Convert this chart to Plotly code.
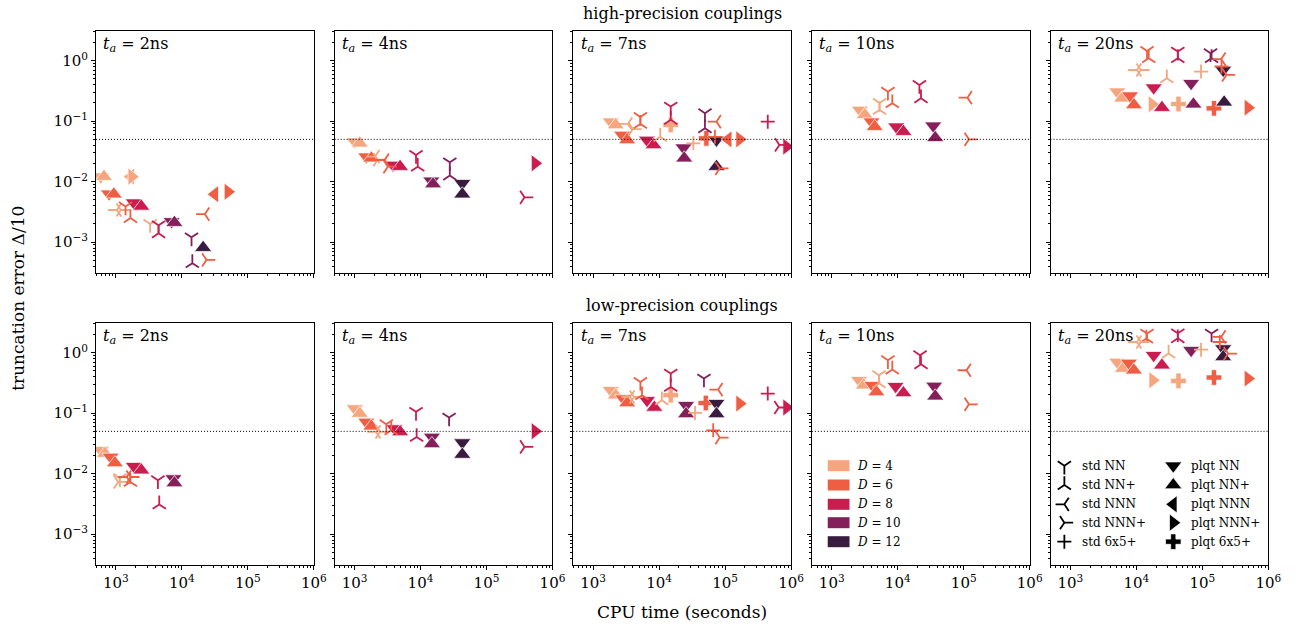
import math
import plotly.graph_objects as go

W, H = 1314, 629
SERIF = "DejaVu Serif"

# ---------------- data (CPU time in s, truncation error Δ/10) ----------------
t_labels = ["2ns", "4ns", "7ns", "10ns", "20ns"]
D_values = [4, 6, 8, 10, 12]
D_colors = ["#F5A67F", "#EF5E43", "#CB1C50", "#83205B", "#3A1B40"]
kinds = ["std NN", "std NN+", "std NNN", "std NNN+", "std 6x5+",
         "plqt NN", "plqt NN+", "plqt NNN", "plqt NNN+", "plqt 6x5+"]
kind_symbols = ["y-down", "y-up", "y-left", "y-right", "cross-thin",
                "triangle-down", "triangle-up", "triangle-left", "triangle-right", "cross"]
x_ticks = [1e3, 1e4, 1e5, 1e6]
x_ticktext = ["10<sup>3</sup>", "10<sup>4</sup>", "10<sup>5</sup>", "10<sup>6</sup>"]
y_ticks = [1e-3, 1e-2, 1e-1, 1e0]
y_ticktext = ["10<sup>−3</sup>", "10<sup>−2</sup>", "10<sup>−1</sup>", "10<sup>0</sup>"]
threshold = 0.05

hp_2ns = [
    ("plqt NN", 4, 590, 0.0121), ("plqt NN+", 4, 660, 0.0121),
    ("plqt NNN", 4, 1680, 0.0121), ("plqt NNN+", 4, 1740, 0.0121),
    ("plqt NN", 6, 785, 0.0063), ("plqt NN+", 6, 930, 0.0062),
    ("plqt NN", 8, 1870, 0.0045), ("plqt NN+", 8, 2430, 0.0039),
    ("plqt NN", 10, 7000, 0.0022), ("plqt NN+", 10, 7700, 0.0021),
    ("plqt NN+", 12, 21000, 0.00081),
    ("plqt NNN", 6, 31500, 0.0062), ("plqt NNN+", 6, 50000, 0.0068),
    ("std NNN", 4, 1035, 0.0034), ("std NNN+", 4, 1190, 0.0034),
    ("std NN", 6, 1400, 0.0039), ("std NN+", 6, 1660, 0.0025),
    ("std NN", 4, 3300, 0.0020),
    ("std NN", 8, 4430, 0.0019), ("std NN+", 8, 4430, 0.0014),
    ("std NN", 10, 14000, 0.0012), ("std NN+", 10, 14400, 0.00045),
    ("std NNN", 6, 22300, 0.0029), ("std NNN+", 6, 23600, 0.00051),
]
hp_4ns = [
    ("plqt NN", 4, 1010, 0.0458), ("plqt NN+", 4, 1200, 0.0431),
    ("plqt NN", 6, 1510, 0.0259), ("plqt NN+", 6, 1800, 0.0244),
    ("std NNN", 4, 2050, 0.026), ("std NNN+", 4, 2250, 0.023),
    ("std NNN", 6, 2850, 0.0228), ("std NNN+", 6, 3200, 0.0177),
    ("plqt NN", 8, 3820, 0.0189), ("plqt NN+", 8, 4900, 0.0177),
    ("std NN", 8, 8550, 0.0276), ("std NN+", 8, 9080, 0.0177),
    ("plqt NN", 10, 14600, 0.0103), ("plqt NN+", 10, 15500, 0.0091),
    ("std NN", 10, 27800, 0.0209), ("std NN+", 10, 27800, 0.0126),
    ("plqt NN", 12, 43000, 0.0094), ("plqt NN+", 12, 43000, 0.0062),
    ("plqt NNN+", 8, 545000, 0.0201), ("std NNN+", 8, 377000, 0.0055),
]
hp_7ns = [
    ("plqt NN", 4, 1850, 0.098), ("plqt NN+", 4, 2200, 0.0865),
    ("plqt NN", 6, 2760, 0.059), ("plqt NN+", 6, 3280, 0.049),
    ("std NNN", 4, 3360, 0.09), ("std NNN+", 4, 4000, 0.074),
    ("std NN", 6, 5200, 0.117), ("std NN+", 6, 5200, 0.09),
    ("std NN+", 4, 10400, 0.055),
    ("plqt NN", 8, 6550, 0.049), ("plqt NN+", 8, 8250, 0.0404),
    ("std NN", 8, 15000, 0.174), ("std NN+", 8, 15000, 0.105),
    ("plqt 6x5+", 4, 15000, 0.0865),
    ("plqt NN", 10, 23400, 0.0365), ("plqt NN+", 10, 24000, 0.0244),
    ("std 6x5+", 4, 33000, 0.043),
    ("std NN", 10, 49500, 0.135), ("std NN+", 10, 49500, 0.076),
    ("plqt 6x5+", 6, 52000, 0.052),
    ("std 6x5+", 6, 70000, 0.055),
    ("plqt NN", 12, 74000, 0.049), ("plqt NN+", 12, 74000, 0.0177),
    ("std NNN", 6, 74000, 0.098), ("std NNN+", 6, 83000, 0.0166),
    ("plqt NNN", 6, 111000, 0.050), ("plqt NNN+", 6, 166000, 0.050),
    ("std 6x5+", 8, 443000, 0.098), ("std NNN+", 8, 665000, 0.0404),
    ("plqt NNN+", 8, 856000, 0.0379),
]
hp_10ns = [
    ("plqt NN", 4, 2670, 0.153), ("plqt NN+", 4, 3170, 0.127),
    ("plqt NN", 6, 4000, 0.098), ("plqt NN+", 6, 4480, 0.081),
    ("std NN", 4, 5300, 0.20), ("std NN+", 4, 5300, 0.153),
    ("std NN", 6, 7100, 0.307), ("std NN+", 6, 8270, 0.198),
    ("plqt NN", 8, 9500, 0.081), ("plqt NN+", 8, 12200, 0.067),
    ("std NN", 8, 21300, 0.397), ("std NN+", 8, 22500, 0.239),
    ("plqt NN", 10, 34500, 0.084), ("plqt NN+", 10, 37000, 0.053),
    ("std NNN", 6, 114000, 0.244), ("std NNN+", 6, 120000, 0.050),
]
hp_20ns = [
    ("plqt NN", 4, 5140, 0.307), ("plqt NN+", 4, 6100, 0.239),
    ("plqt NN", 6, 8000, 0.264), ("plqt NN+", 6, 9200, 0.185),
    ("plqt NNN+", 4, 17300, 0.19),
    ("plqt NN", 8, 18300, 0.358), ("plqt NN+", 8, 24400, 0.167),
    ("plqt 6x5+", 4, 43500, 0.192),
    ("plqt NN", 10, 67600, 0.423), ("plqt NN+", 10, 73300, 0.19),
    ("plqt 6x5+", 6, 150000, 0.163),
    ("plqt NN", 12, 207000, 0.70), ("plqt NN+", 12, 214000, 0.205),
    ("plqt NNN+", 6, 492000, 0.167),
    ("std NN", 6, 14500, 1.45), ("std NN+", 6, 15400, 1.10),
    ("std NNN", 4, 10200, 0.70), ("std NNN+", 4, 11700, 0.70),
    ("std NN+", 4, 29000, 0.51),
    ("std NN", 8, 42500, 1.41), ("std NN+", 8, 42500, 1.10),
    ("std 6x5+", 4, 95500, 0.66),
    ("std NN", 10, 133000, 1.33), ("std NN+", 10, 138000, 1.10),
    ("std NNN", 6, 193000, 1.06), ("std 6x5+", 6, 195000, 0.80),
    ("std NNN+", 6, 232000, 0.58),
]
lp_2ns = [
    ("plqt NN", 4, 590, 0.0244), ("plqt NN+", 4, 684, 0.0215),
    ("plqt NN", 6, 832, 0.0189), ("plqt NN+", 6, 966, 0.015),
    ("plqt NN", 8, 1870, 0.0133), ("plqt NN+", 8, 2430, 0.0114),
    ("plqt NN", 10, 7450, 0.0083), ("plqt NN+", 10, 7710, 0.0070),
    ("std NNN+", 4, 1083, 0.0073), ("std NN", 4, 1150, 0.0084),
    ("std NNN", 6, 1460, 0.0088), ("std NNN+", 6, 1680, 0.0088),
    ("std NN+", 6, 1660, 0.0073),
    ("std NN", 8, 4330, 0.0078), ("std NN+", 8, 4540, 0.0031),
]
lp_4ns = [
    ("plqt NN", 4, 1010, 0.119), ("plqt NN+", 4, 1200, 0.0985),
    ("plqt NN", 6, 1510, 0.0716), ("plqt NN+", 6, 1800, 0.0607),
    ("std NNN", 4, 2120, 0.049), ("std NNN+", 4, 2430, 0.049),
    ("std NN", 6, 3030, 0.0656), ("std NN+", 6, 3600, 0.0522),
    ("plqt NN", 8, 4040, 0.0556), ("plqt NN+", 8, 4920, 0.0489),
    ("std NN", 8, 8550, 0.105), ("std NN+", 8, 8740, 0.0404),
    ("plqt NN", 10, 14900, 0.0404), ("plqt NN+", 10, 14900, 0.031),
    ("std NN", 10, 27100, 0.0846),
    ("plqt NN", 12, 43000, 0.0327), ("plqt NN+", 12, 43000, 0.0207),
    ("plqt NNN+", 8, 545000, 0.0502), ("std NNN+", 8, 377000, 0.0276),
]
lp_7ns = [
    ("plqt NN", 4, 1850, 0.239), ("plqt NN+", 4, 2200, 0.198),
    ("plqt NN", 6, 2860, 0.174), ("plqt NN+", 6, 3280, 0.147),
    ("std NNN", 4, 3640, 0.185), ("std NNN+", 4, 4180, 0.185),
    ("std NN", 6, 5200, 0.328), ("std NN+", 6, 5500, 0.198),
    ("plqt NN", 8, 6550, 0.163), ("plqt NN+", 8, 8470, 0.124),
    ("std NN+", 4, 11000, 0.163),
    ("std NN", 8, 15000, 0.451), ("std NN+", 8, 15000, 0.271),
    ("plqt 6x5+", 4, 15000, 0.198),
    ("plqt NN", 10, 25600, 0.135), ("plqt NN+", 10, 25600, 0.097),
    ("std 6x5+", 4, 35000, 0.101),
    ("std NN", 10, 47800, 0.373),
    ("plqt 6x5+", 6, 51000, 0.147),
    ("std NNN", 6, 78500, 0.245),
    ("plqt NN", 12, 74000, 0.146), ("plqt NN+", 12, 74000, 0.097),
    ("std 6x5+", 6, 66000, 0.052), ("std NNN+", 6, 83000, 0.0395),
    ("plqt NNN+", 6, 166000, 0.144),
    ("std 6x5+", 8, 443000, 0.211), ("std NNN+", 8, 650000, 0.124),
    ("plqt NNN+", 8, 856000, 0.124),
]
lp_10ns = [
    ("plqt NN", 4, 2600, 0.35), ("plqt NN+", 4, 3060, 0.289),
    ("plqt NN", 6, 4140, 0.289), ("plqt NN+", 6, 4750, 0.224),
    ("std NN", 4, 5200, 0.423), ("std NN+", 4, 5200, 0.312),
    ("std NN", 6, 7100, 0.748), ("std NN+", 6, 8270, 0.526),
    ("plqt NN", 8, 9270, 0.279), ("plqt NN+", 8, 12200, 0.216),
    ("std NN", 8, 21800, 0.906), ("std NN+", 8, 22500, 0.643),
    ("plqt NN", 10, 35700, 0.282), ("plqt NN+", 10, 37000, 0.19),
    ("std NNN", 6, 110000, 0.512), ("std NNN+", 6, 120000, 0.14),
]
lp_20ns = [
    ("plqt NN", 4, 5140, 0.70), ("plqt NN+", 4, 6270, 0.546),
    ("plqt NN", 6, 7700, 0.676), ("plqt NN+", 6, 9170, 0.512),
    ("plqt NNN+", 4, 17700, 0.35),
    ("plqt NN", 8, 18300, 0.906), ("plqt NN+", 8, 24400, 0.619),
    ("plqt 6x5+", 4, 43500, 0.341),
    ("plqt NN", 10, 67600, 1.10),
    ("plqt 6x5+", 6, 150000, 0.388),
    ("plqt NN", 12, 207000, 1.17), ("plqt NN+", 12, 207000, 0.85),
    ("plqt NNN+", 6, 492000, 0.373),
    ("std NN", 6, 14500, 2.07), ("std NN+", 6, 14200, 1.71),
    ("std NNN", 4, 10200, 1.5), ("std NNN+", 4, 11700, 1.5),
    ("std NN+", 4, 30800, 0.967),
    ("std NN", 8, 42500, 2.09), ("std NN+", 8, 42500, 1.73),
    ("std 6x5+", 4, 95500, 1.12),
    ("std NN", 10, 138000, 2.07),
    ("std NNN", 6, 193000, 1.82), ("std 6x5+", 6, 184000, 1.5),
    ("std NNN+", 6, 246000, 0.967),
]
panels = [[hp_2ns, hp_4ns, hp_7ns, hp_10ns, hp_20ns],
          [lp_2ns, lp_4ns, lp_7ns, lp_10ns, lp_20ns]]
row_titles = ["high-precision couplings", "low-precision couplings"]

# ---------------- layout geometry (pixels) ----------------
col_left = [97, 338, 579, 820, 1061]
PW = 220
row_span = [(31, 273), (323, 565)]

color_of = dict(zip(D_values, D_colors))
symbol_of = dict(zip(kinds, kind_symbols))


def marker_style(kind, col):
    sym = symbol_of[kind]
    if kind.startswith("plqt"):
        return dict(symbol=sym, size=13 if "6x5" in kind else 15, color=col,
                    line=dict(color="white", width=0.7))
    return dict(symbol=sym, size=10 if "6x5" in kind else 11, color=col,
                line=dict(color=col, width=1.8))


fig = go.Figure()
layout = dict(width=W, height=H, margin=dict(l=0, r=0, t=0, b=0),
              paper_bgcolor="white", plot_bgcolor="rgba(0,0,0,0)", showlegend=False,
              font=dict(family=SERIF, color="black"))
annotations = []
shapes = []

minor_x = [k * 10 ** n for n in range(2, 6) for k in range(2, 10) if 500 <= k * 10 ** n <= 1e6]
minor_y = [k * 10 ** n for n in range(-4, 1) for k in range(2, 10) if 3e-4 <= k * 10 ** n <= 3.1]

for r in range(2):
    top, bot = row_span[r]
    for c in range(5):
        k = r * 5 + c + 1
        L = col_left[c]
        xa = dict(type="log", range=[math.log10(500), 6],
                  domain=[L / W, (L + PW) / W], anchor=f"y{k}",
                  showline=True, mirror=True, linecolor="black", linewidth=1,
                  ticks="outside", ticklen=4, tickwidth=1, tickcolor="black",
                  showgrid=False, zeroline=False,
                  tickmode="array", tickvals=x_ticks, ticktext=x_ticktext,
                  showticklabels=(r == 1),
                  tickfont=dict(family=SERIF, size=15, color="black"),
                  minor=dict(ticks="outside", ticklen=2, tickwidth=1, tickcolor="black",
                             tickmode="array", tickvals=minor_x, showgrid=False))
        ya = dict(type="log", range=[-3.51, 0.49],
                  domain=[1 - bot / H, 1 - top / H], anchor=f"x{k}",
                  showline=True, mirror=True, linecolor="black", linewidth=1,
                  ticks="outside", ticklen=4, tickwidth=1, tickcolor="black",
                  showgrid=False, zeroline=False,
                  tickmode="array", tickvals=y_ticks, ticktext=y_ticktext,
                  showticklabels=(c == 0),
                  tickfont=dict(family=SERIF, size=15, color="black"),
                  minor=dict(ticks="outside", ticklen=2, tickwidth=1, tickcolor="black",
                             tickmode="array", tickvals=minor_y, showgrid=False))
        sfx = "" if k == 1 else str(k)
        layout[f"xaxis{sfx}"] = xa
        layout[f"yaxis{sfx}"] = ya

        shapes.append(dict(type="line", xref=f"x{sfx} domain", yref=f"y{sfx}",
                           x0=0, x1=1, y0=threshold, y1=threshold,
                           line=dict(color="black", width=1, dash="1px,2px")))
        annotations.append(dict(xref=f"x{sfx} domain", yref=f"y{sfx} domain",
                                x=0.025, y=0.945, xanchor="left", yanchor="middle",
                                showarrow=False,
                                text=f"<i>t</i><sub><i>a</i></sub> = {t_labels[c]}",
                                font=dict(family=SERIF, size=16, color="black")))

        data = panels[r][c]
        groups = {}
        for kind, D, x, y in data:
            groups.setdefault((kind, D), ([], []))
            groups[(kind, D)][0].append(x)
            groups[(kind, D)][1].append(y)
        order = sorted(groups.keys(), key=lambda kd: (0 if kd[0].startswith("plqt") else 1))
        for kind, D in order:
            xs, ys = groups[(kind, D)]
            fig.add_trace(go.Scatter(x=xs, y=ys, mode="markers",
                                     marker=marker_style(kind, color_of[D]),
                                     xaxis=f"x{sfx}", yaxis=f"y{sfx}",
                                     hoverinfo="skip", cliponaxis=True))

for r in range(2):
    top = row_span[r][0]
    annotations.append(dict(xref="paper", yref="paper", x=(97 + 1281) / 2 / W,
                            y=1 - (top - 18) / H, xanchor="center", yanchor="middle",
                            showarrow=False, text=row_titles[r],
                            font=dict(family=SERIF, size=16, color="black")))
annotations.append(dict(xref="paper", yref="paper", x=(97 + 1281) / 2 / W, y=1 - 612 / H,
                        xanchor="center", yanchor="middle", showarrow=False,
                        text="CPU time (seconds)",
                        font=dict(family=SERIF, size=17, color="black")))
annotations.append(dict(xref="paper", yref="paper", x=18 / W, y=1 - 298 / H,
                        xanchor="center", yanchor="middle", showarrow=False, textangle=-90,
                        text="truncation error Δ/10",
                        font=dict(family=SERIF, size=17, color="black")))

# ---------------- legend for D (in low-precision, 10ns panel) ----------------
leg_rows = [465.7, 485, 504.3, 522.7, 541.7]
for i, D in enumerate(D_values):
    yc = leg_rows[i]
    shapes.append(dict(type="rect", xref="paper", yref="paper",
                       x0=836 / W, x1=858 / W, y0=1 - (yc + 5.5) / H, y1=1 - (yc - 5.5) / H,
                       fillcolor=color_of[D], line=dict(width=0)))
    annotations.append(dict(xref="paper", yref="paper", x=864 / W, y=1 - yc / H,
                            xanchor="left", yanchor="middle", showarrow=False,
                            text=f"<i>D</i> = {D}",
                            font=dict(family=SERIF, size=12, color="black")))

# ---------------- legend for marker kinds (in low-precision, 20ns panel) ----------------
layout["xaxis11"] = dict(domain=[1061 / W, 1281 / W], range=[1061, 1281], visible=False,
                         anchor="y11", fixedrange=True)
layout["yaxis11"] = dict(domain=[1 - 565 / H, 1 - 323 / H], range=[565, 323], visible=False,
                         anchor="x11", fixedrange=True)
leg_cols = [(1075, kinds[:5]), (1185, kinds[5:])]
for xm, ks in leg_cols:
    for i, kind in enumerate(ks):
        yc = leg_rows[i]
        fig.add_trace(go.Scatter(x=[xm], y=[yc], mode="markers",
                                 marker=marker_style(kind, "black"),
                                 xaxis="x11", yaxis="y11", hoverinfo="skip"))
        annotations.append(dict(xref="paper", yref="paper", x=(xm + 16) / W, y=1 - yc / H,
                                xanchor="left", yanchor="middle", showarrow=False,
                                text=kind, font=dict(family=SERIF, size=12, color="black")))

layout["annotations"] = annotations
layout["shapes"] = shapes
fig.update_layout(**layout)
fig.write_html("out.html")
